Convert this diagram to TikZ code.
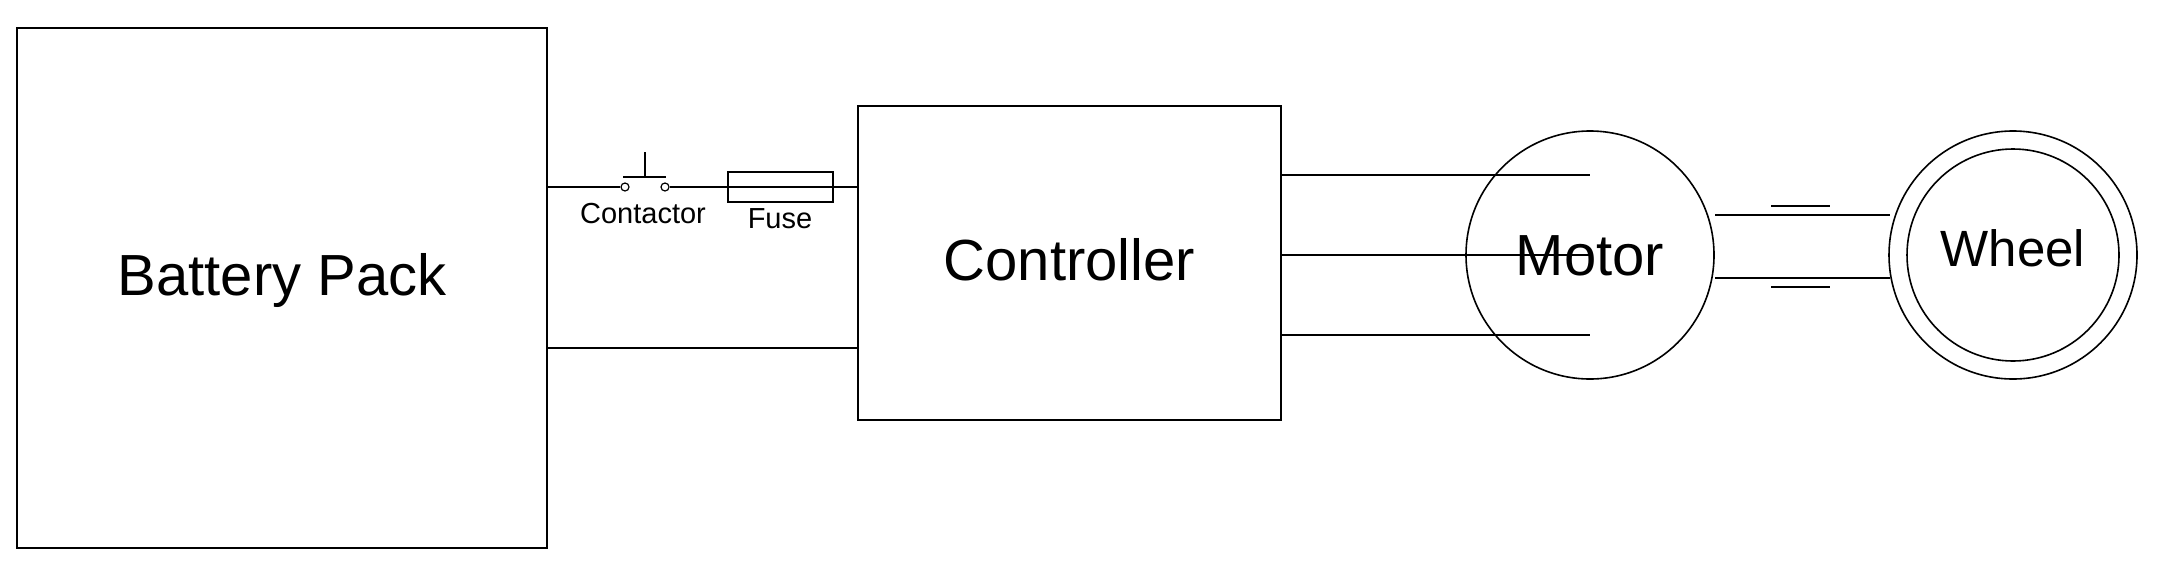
\documentclass[tikz,border=0pt]{standalone}
\usepackage{fontspec}
\setmainfont{Liberation Sans}
\begin{document}
\begin{tikzpicture}[x=1pt,y=-1pt,line width=1.6pt,
  box/.style={draw,inner sep=0pt},
  lbl/.style={inner sep=0pt,font=\fontsize{29}{29}\selectfont},
  big/.style={inner sep=0pt,font=\fontsize{58}{58}\selectfont},
  term/.style={circle,draw,line width=1.2pt,minimum size=8pt,inner sep=0pt,fill=white}]
\useasboundingbox (0,0) rectangle (2159,563);
\node[box,minimum width=530pt,minimum height=520pt] (bat) at (282,288) {};
\node[big] (batt) at (282,280) {Battery Pack};
\node[box,minimum width=423pt,minimum height=314pt] (ctl) at (1069.5,263) {};
\node[big] (ctlt) at (1069.5,260) {Controller};
\node[circle,draw,minimum size=248pt,inner sep=0pt] (mot) at (1590,255) {};
\node[big] (mott) at (1590,256) {Motor};
\node[circle,draw,minimum size=248pt,inner sep=0pt] (wo) at (2013,255) {};
\node[circle,draw,minimum size=212pt,inner sep=0pt] (wi) at (2013,255) {};
\node[inner sep=0pt,font=\fontsize{51}{51}\selectfont] (wt) at (2013,248) {Wheel};
% contactor and fuse
\coordinate (b1) at (547,187);
\node[term] (c1) at (625,187) {};
\node[term] (c2) at (665,187) {};
\node[box,minimum width=105pt,minimum height=30pt] (fuse) at (780.5,187) {};
\coordinate (p1) at (645,152);
\coordinate (p2) at (645,177);
\coordinate (h1) at (623,177);
\coordinate (h2) at (666,177);
\draw (b1) -- (c1.west);
\draw (c2.east) -- (fuse.west);
\draw (fuse.west) -- (fuse.east);
\draw (fuse.east) -- (858,187);
\draw (p1) -- (p2);
\draw (h1) -- (h2);
\node[lbl] (ct) at (643,214) {Contactor};
\node[lbl] (ft) at (780,219) {Fuse};
\draw (547,348) -- (858,348);
% controller to motor
\foreach \yy in {175,255,335} {
  \draw (1281,\yy) -- (mot.center |- 0,\yy) ;
}
% shaft
\coordinate (s1) at (1715,215);
\coordinate (s2) at (1715,278);
\draw (s1) -- (1890,215);
\draw (s2) -- (1890,278);
\draw (1771,206) -- (1830,206);
\draw (1771,287) -- (1830,287);
\end{tikzpicture}
\end{document}
